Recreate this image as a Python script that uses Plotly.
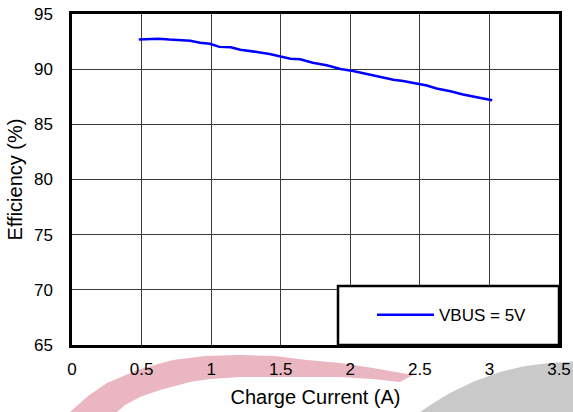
import plotly.graph_objects as go

current_a = [0.48, 0.55, 0.62, 0.70, 0.78, 0.85, 0.92, 0.99, 1.06, 1.14, 1.21, 1.28,
             1.35, 1.42, 1.50, 1.57, 1.64, 1.73, 1.83, 1.93, 2.02, 2.10, 2.17, 2.24,
             2.31, 2.38, 2.45, 2.50, 2.55, 2.62, 2.72, 2.81, 2.87, 2.93, 3.02]
efficiency = [92.70, 92.72, 92.76, 92.68, 92.60, 92.58, 92.40, 92.30, 92.02, 91.98, 91.76, 91.66,
              91.52, 91.38, 91.12, 90.95, 90.89, 90.58, 90.35, 90.02, 89.84, 89.62, 89.40, 89.22,
              89.05, 88.92, 88.76, 88.58, 88.52, 88.25, 88.00, 87.70, 87.57, 87.37, 87.18]
series_name = "VBUS = 5V"
x_ticks = [0, 0.5, 1, 1.5, 2, 2.5, 3, 3.5]
x_tick_text = ["0", "0.5", "1", "1.5", "2", "2.5", "3", "3.5"]
y_ticks = [65, 70, 75, 80, 85, 90, 95]

FONT = "Liberation Sans, Arial, sans-serif"
W, H = 573, 412
ML, MR, MT, MB = 72, 14, 14, 67


def to_paper(px, py):
    return (px - ML) / (W - ML - MR), (H - MB - py) / (H - MT - MB)


def poly_path(points):
    pts = [to_paper(px, py) for px, py in points]
    return "M " + " L ".join(f"{x:.4f},{y:.4f}" for x, y in pts) + " Z"


# background watermark (decoration behind the labels)
wm_red = [(60, 420), (70, 412), (88, 396), (107, 383), (140, 369), (173, 360), (205, 356),
          (240, 355), (275, 356), (307, 360), (340, 363), (373, 368), (413, 375),
          (400, 382), (373, 379), (340, 377), (307, 377), (275, 377), (240, 377),
          (210, 379), (190, 382), (160, 390), (140, 397), (125, 405), (117, 412), (112, 420)]
wm_gray = [(410, 420), (420, 412), (435, 402), (450, 393), (475, 381), (500, 372),
           (525, 366), (550, 363), (580, 361), (580, 420)]

fig = go.Figure()
fig.add_trace(go.Scatter(x=current_a, y=efficiency, mode="lines", name=series_name,
                         line=dict(color="#0000FF", width=2.5), showlegend=True))

fig.add_shape(type="path", xref="paper", yref="paper", path=poly_path(wm_red),
              fillcolor="#eab6c1", line=dict(width=0), layer="below")
fig.add_shape(type="path", xref="paper", yref="paper", path=poly_path(wm_gray),
              fillcolor="#c9c9c9", line=dict(width=0), layer="below")

# legend box
bx0, by1 = to_paper(338, 286)
fig.add_shape(type="rect", xref="paper", yref="paper", x0=bx0, x1=1.0, y0=0.0, y1=by1,
              fillcolor="white", line=dict(color="black", width=2.5), layer="above")

fig.update_layout(
    width=W, height=H,
    margin=dict(l=ML, r=MR, t=MT, b=MB, autoexpand=False),
    paper_bgcolor="white", plot_bgcolor="white",
    font=dict(family=FONT, size=17, color="black"),
    showlegend=True,
    hovermode=False,
    legend=dict(x=0.616, y=0.09, xanchor="left", yanchor="middle",
                bgcolor="rgba(0,0,0,0)", borderwidth=0, itemwidth=57,
                font=dict(family=FONT, size=17, color="black")),
    xaxis=dict(range=[0, 3.5], tickvals=x_ticks, ticktext=x_tick_text,
               showgrid=True, gridcolor="#3a3a3a", gridwidth=1,
               showline=True, linecolor="black", linewidth=2.5, mirror=True,
               ticks="", ticklabelstandoff=7, zeroline=False, automargin=False,
               title=dict(text="Charge Current (A)", standoff=12)),
    yaxis=dict(range=[65, 95], tickvals=y_ticks,
               showgrid=True, gridcolor="#3a3a3a", gridwidth=1,
               showline=True, linecolor="black", linewidth=2.5, mirror=True,
               ticks="", ticklabelstandoff=13, zeroline=False, automargin=False,
               title=dict(text="Efficiency (%)", standoff=6)),
)

fig.write_html("out.html", config={"displayModeBar": False},
               post_script="document.body.style.margin='0';")
